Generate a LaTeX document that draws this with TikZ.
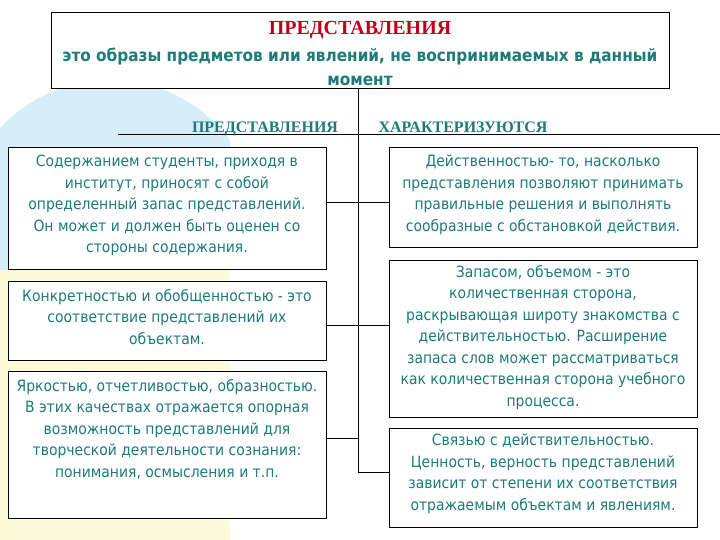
\documentclass[tikz,border=0pt]{standalone}
\usepackage{fontspec}
\setmainfont{Liberation Serif}
\newfontfamily\bodyf{DejaVu Sans Condensed}
\definecolor{tealtx}{HTML}{1E7B78}
\definecolor{headred}{HTML}{C00018}
\definecolor{bgblue}{HTML}{D6EEFA}
\definecolor{bgyel}{HTML}{FCFBD8}
\begin{document}
\begin{tikzpicture}[x=1pt,y=-1pt,
  frame/.style={draw=black,line width=0.9pt,fill=white,inner sep=0pt},
  txt/.style={align=center,text=tealtx,font=\bodyf\fontsize{15.5}{21.5}\selectfont,inner sep=0pt,anchor=north},
  head/.style={text=tealtx,font=\bfseries\fontsize{16}{18}\selectfont,anchor=base},
  conn/.style={line width=0.8pt}]
\useasboundingbox (0,0) rectangle (720,540);
\fill[bgblue] (110,230) circle (150);
\fill[bgyel] (0,270) rectangle (230,540);
\fill[white] (230,60) rectangle (720,540);
% top
\draw[line width=0.9pt,fill=white] (51,12) rectangle (669,88);
\node[text=headred,font=\bfseries\fontsize{20}{22}\selectfont,anchor=base] (t) at (360,35) {ПРЕДСТАВЛЕНИЯ};
\node[text=tealtx,font=\bodyf\bfseries\fontsize{17}{24}\selectfont,align=center,anchor=north] (sub) at (360,44) {это образы предметов или явлений, не воспринимаемых в данный\\момент};
\coordinate (top) at (358,88);
\coordinate (bot) at (358,472);
\draw[conn] (top) -- (bot);
\coordinate (hl) at (118,134);
\coordinate (hr) at (720,134);
\draw[conn] (hl) -- (hr);
\node[head] (h1) at (265,133) {ПРЕДСТАВЛЕНИЯ};
\node[head] (h2) at (463,133) {ХАРАКТЕРИЗУЮТСЯ};
% left boxes
\node[frame,minimum width=318pt,minimum height=122pt,anchor=north] (l1) at (167,147) {};
\node[frame,minimum width=318pt,minimum height=79pt,anchor=north] (l2) at (167,281) {};
\node[frame,minimum width=318pt,minimum height=147pt,anchor=north] (l3) at (167,371) {};
\node[txt] (l1t) at (167,155) {Содержанием студенты, приходя в\\институт, приносят с собой\\определенный запас представлений.\\Он может и должен быть оценен со\\стороны содержания.};
\node[txt] (l2t) at (167,289) {Конкретностью и обобщенностью - это\\соответствие представлений их\\объектам.};
\node[txt] (l3t) at (167,379) {Яркостью, отчетливостью, образностью.\\В этих качествах отражается опорная\\возможность представлений для\\творческой деятельности сознания:\\понимания, осмысления и т.п.};
% right boxes
\node[frame,minimum width=308pt,minimum height=100pt,anchor=north] (r1) at (543,147) {};
\node[frame,minimum width=308pt,minimum height=157pt,anchor=north] (r2) at (543,260) {};
\node[frame,minimum width=308pt,minimum height=99pt,anchor=north] (r3) at (543,428) {};
\node[txt] (r1t) at (543,155) {Действенностью- то, насколько\\представления позволяют принимать\\правильные решения и выполнять\\сообразные с обстановкой действия.};
\node[txt] (r2t) at (543,265) {Запасом, объемом - это\\количественная сторона,\\раскрывающая широту знакомства с\\действительностью. Расширение\\запаса слов может рассматриваться\\как количественная сторона учебного\\процесса.};
\node[txt] (r3t) at (543,434) {Связью с действительностью.\\Ценность, верность представлений\\зависит от степени их соответствия\\отражаемым объектам и явлениям.};
% connectors
\draw[conn] (l1.east |- 0,202) -- (r1.west |- 0,202);
\draw[conn] (l2.east |- 0,325) -- (r2.west |- 0,325);
\draw[conn] (l3.east |- 0,438) -- (bot |- 0,438);
\draw[conn] (bot) -- (r3.west |- bot);
\end{tikzpicture}
\end{document}
